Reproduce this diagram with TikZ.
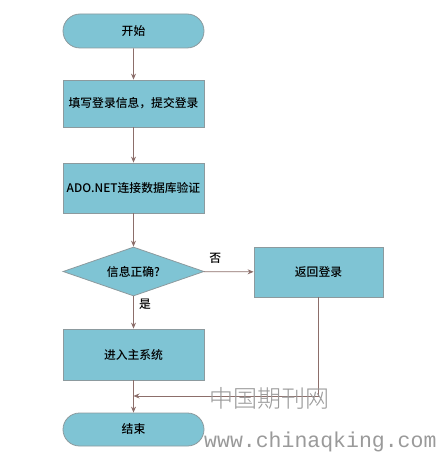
\documentclass[tikz,border=0pt]{standalone}
\usepackage{fontspec}
\setmainfont{Noto Sans CJK SC Medium}
\newfontfamily\wmfont{Noto Sans CJK SC Light}
\newfontfamily\wmmono{Liberation Mono}
\usetikzlibrary{arrows.meta,shapes.geometric,shapes.misc}
\definecolor{boxfill}{HTML}{7FC4D4}
\definecolor{boxline}{HTML}{8C9A9E}
\definecolor{arrowc}{HTML}{8C6E6A}
\definecolor{wm}{HTML}{9A9A9A}
\tikzset{
  txt/.style={font=\fontsize{11.8}{13}\selectfont},
  stepbox/.style={draw=boxline, line width=0.8pt, fill=boxfill, minimum width=141pt, minimum height=48pt, inner sep=0pt, txt},
  termbox/.style={draw=boxline, line width=0.8pt, fill=boxfill, rounded rectangle, minimum width=141pt, minimum height=34pt, inner sep=0pt, txt},
  decbox/.style={draw=boxline, line width=0.8pt, fill=boxfill, diamond, aspect=2.85, minimum width=141pt, minimum height=49pt, inner sep=0pt, txt},
  flow/.style={draw=arrowc, line width=0.8pt, -{Stealth[length=6pt,width=5pt]}},
  lbl/.style={txt}
}
\begin{document}
\begin{tikzpicture}[x=1pt,y=-1pt]
\useasboundingbox (0,0) rectangle (437,457);
\node[termbox] (start) at (133.5,31) {开始};
\node[stepbox, minimum height=47pt] (fill) at (133.5,103.5) {填写登录信息，提交登录};
\node[stepbox, minimum height=50pt] (ado) at (133.5,188) {ADO.NET连接数据库验证};
\node[decbox] (dec) at (133.5,271.5) {信息正确?};
\node[stepbox, minimum width=129pt, minimum height=50pt] (ret) at (318.5,272) {返回登录};
\node[stepbox, minimum height=51pt] (main) at (133.5,354.5) {进入主系统};
\node[termbox, minimum height=33pt] (end) at (133.5,429.5) {结束};
\coordinate (corner) at (ret.south |- 0,396);
\coordinate (join) at (main.south |- 0,396);
\draw[flow] (start) -- (fill);
\draw[flow] (fill) -- (ado);
\draw[flow] (ado) -- (dec);
\draw[flow] (dec) -- node[lbl, above, pos=0.23, yshift=4pt] {否} (ret);
\draw[flow] (dec) -- node[lbl, right, pos=0.25, xshift=2pt] {是} (main);
\draw[flow] (main) -- (end);
\draw[flow] (ret.south) -- (corner) -- (join);
\node[text=wm, font=\wmfont\fontsize{24}{26}\selectfont, anchor=west, inner sep=0pt] (wm1) at (209,398) {中国期刊网};
\node[text=wm, font=\wmmono\fontsize{21.5}{24}\selectfont, anchor=west, inner sep=0pt] (wm2) at (204,442) {www.chinaqking.com};
\end{tikzpicture}
\end{document}
